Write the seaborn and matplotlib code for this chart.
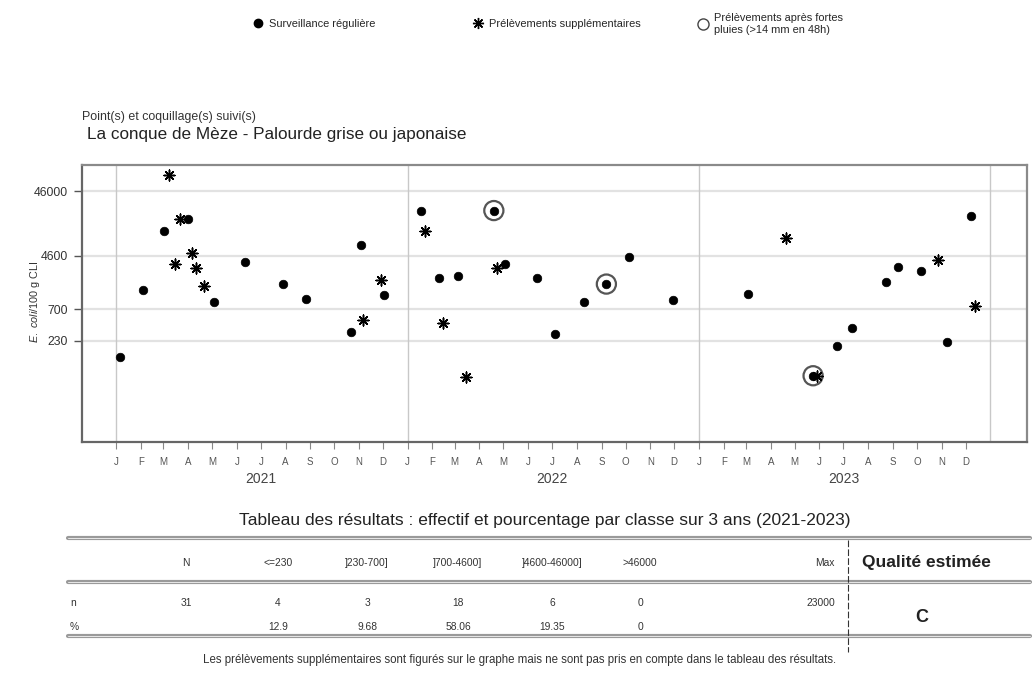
import pandas as pd
import matplotlib.pyplot as plt
import matplotlib.transforms as mtransforms
from matplotlib.lines import Line2D
import seaborn as sns

# Surveillance reguliere (points noirs)
reg_dates = ['2021-01-05', '2021-02-03', '2021-03-02', '2021-04-01', '2021-05-04', '2021-06-11',
             '2021-07-29', '2021-08-27', '2021-10-22', '2021-11-03', '2021-12-02',
             '2022-01-18', '2022-02-09', '2022-03-05', '2022-04-19', '2022-05-03', '2022-06-12',
             '2022-07-05', '2022-08-10', '2022-09-07', '2022-10-05', '2022-11-30',
             '2023-03-03', '2023-05-24', '2023-06-23', '2023-07-12', '2023-08-23', '2023-09-08',
             '2023-10-06', '2023-11-08', '2023-12-08']
reg_values = [130, 1400, 11000, 17000, 900, 3700,
              1700, 1000, 310, 6800, 1150,
              23000, 2100, 2300, 23000, 3500, 2100,
              290, 910, 1700, 4400, 970,
              1200, 66, 190, 360, 1850, 3150,
              2700, 220, 19000]

# Prelevements supplementaires (etoiles)
supp_dates = ['2021-03-08', '2021-03-15', '2021-03-22', '2021-04-06', '2021-04-11', '2021-04-21',
              '2021-11-06', '2021-11-28',
              '2022-01-23', '2022-02-14', '2022-03-15', '2022-04-23',
              '2023-04-20', '2023-05-29', '2023-10-28', '2023-12-13']
supp_values = [81000, 3500, 17000, 5100, 3000, 1600,
               480, 1950,
               11000, 430, 64, 3000,
               8600, 66, 4000, 780]

# Prelevements apres fortes pluies (cercles)
rain_dates = ['2022-04-19', '2022-09-07', '2023-05-24']
rain_values = [23000, 1700, 66]

# Seuils de l'axe y
y_ticks = [46000, 4600, 700, 230]
month_letters = ['J', 'F', 'M', 'A', 'M', 'J', 'J', 'A', 'S', 'O', 'N', 'D']
years = [2021, 2022, 2023]

# Tableau des resultats
col_heads = ['N', '<=230', ']230-700]', ']700-4600]', ']4600-46000]', '>46000', 'Max']
n_row = ['31', '4', '3', '18', '6', '0', '23000']
pct_row = ['', '12.9', '9.68', '58.06', '19.35', '0', '']
quality = 'C'

sns.set_style('white')
plt.rcParams['font.family'] = ['Liberation Sans', 'DejaVu Sans']
plt.rcParams['mathtext.fontset'] = 'custom'
plt.rcParams['mathtext.it'] = 'Liberation Sans:italic'
plt.rcParams['mathtext.rm'] = 'Liberation Sans'

df_reg = pd.DataFrame({'date': pd.to_datetime(reg_dates), 'value': reg_values})
df_supp = pd.DataFrame({'date': pd.to_datetime(supp_dates), 'value': supp_values})
df_rain = pd.DataFrame({'date': pd.to_datetime(rain_dates), 'value': rain_values})

W, H = 1033, 675
fig = plt.figure(figsize=(W / 100, H / 100), dpi=100)
ax = fig.add_axes([82 / W, 1 - 442 / H, 945 / W, 277 / H])

ax.set_yscale('log')
ax.set_ylim(10 ** 0.80, 10 ** 5.063)
ax.set_xlim(pd.Timestamp('2020-11-19'), pd.Timestamp('2024-02-16'))

# grille
for v in y_ticks:
    ax.axhline(v, color='#e2e2e2', lw=1.6, zorder=0)
for yr in years + [2024]:
    ax.axvline(pd.Timestamp(f'{yr}-01-01'), color='#c8c8c8', lw=1, zorder=0)

sns.scatterplot(x='date', y='value', data=df_rain, ax=ax, marker='o', s=190,
                facecolor='none', edgecolor='#555555', linewidth=1.6, zorder=2)
sns.scatterplot(x='date', y='value', data=df_supp, ax=ax, marker=(8, 2, 0), s=60,
                color='black', linewidth=1.1, zorder=3)
sns.scatterplot(x='date', y='value', data=df_reg, ax=ax, marker='o', s=38,
                color='black', edgecolor='black', linewidth=0.5, zorder=4)

ax.set_yticks(y_ticks)
ax.set_yticklabels([str(v) for v in y_ticks])
ax.yaxis.set_minor_locator(plt.NullLocator())
months = pd.date_range('2021-01-01', '2023-12-01', freq='MS')
ax.set_xticks(months)
ax.set_xticklabels(month_letters * len(years))
ax.tick_params(axis='y', which='major', length=6, width=1, color='#555555',
               labelsize=8.8, labelcolor='#333333', pad=4, left=True)
ax.tick_params(axis='x', which='major', length=5, width=0.8, color='#888888',
               labelsize=7, labelcolor='#555555', pad=6, bottom=True)
ax.set_xlabel('')
ax.set_ylabel('')
for name, sp in ax.spines.items():
    sp.set_visible(True)
    sp.set_linewidth(1.6)
    sp.set_color('#666666' if name in ('left', 'bottom') else '#8a8a8a')

trans = mtransforms.blended_transform_factory(ax.transData, ax.transAxes)
for yr in years:
    ax.text(pd.Timestamp(f'{yr}-07-01'), -0.135, str(yr), transform=trans,
            ha='center', va='center', fontsize=10, color='#444444')

fig.text(35 / W, 1 - 302 / H, r'$\it{E.\ coli}$/100 g CLI', rotation=90,
         ha='center', va='center', fontsize=7.8, color='#333333')

fig.text(82 / W, 1 - 117 / H, 'Point(s) et coquillage(s) suivi(s)', fontsize=8.9,
         ha='left', va='center', color='#333333')
fig.text(87 / W, 1 - 134 / H, 'La conque de Mèze - Palourde grise ou japonaise', fontsize=12.3,
         ha='left', va='center', color='#222222')

# legende : une entree par position
leg_items = [
    (Line2D([], [], marker='o', color='black', ls='', markersize=6),
     'Surveillance régulière', 253),
    (Line2D([], [], marker=(8, 2, 0), color='black', ls='', markersize=8, markeredgewidth=1),
     'Prélèvements supplémentaires', 473),
    (Line2D([], [], marker='o', markerfacecolor='none', markeredgecolor='#444444', ls='', markersize=8),
     'Prélèvements après fortes\npluies (>14 mm en 48h)', 698),
]
for h, lab, px in leg_items:
    fig.legend([h], [lab], loc='center left', bbox_to_anchor=(px / W, 1 - 24 / H),
               frameon=False, fontsize=7.9, handletextpad=0.45, handlelength=1.0,
               borderpad=0, borderaxespad=0)

# tableau
fig.text(545 / W, 1 - 521 / H,
         'Tableau des résultats : effectif et pourcentage par classe sur 3 ans (2021-2023)',
         ha='center', va='center', fontsize=12.5, color='#222222')
for yy in (538, 582, 636):
    fig.add_artist(Line2D([68 / W, 1030 / W], [1 - yy / H, 1 - yy / H], color='#9a9a9a', lw=3))
    fig.add_artist(Line2D([68 / W, 1030 / W], [1 - yy / H, 1 - yy / H], color='#e8e8e8', lw=0.7))
fig.add_artist(Line2D([848 / W, 848 / W], [1 - 540 / H, 1 - 652 / H], color='#333333', lw=0.8,
                      ls=(0, (6, 2))))

col_x = [186, 278, 367, 458, 552, 640, 835]
for cx, head, n, p in zip(col_x, col_heads, n_row, pct_row):
    ha = 'right' if head == 'Max' else 'center'
    fig.text(cx / W, 1 - 563 / H, head, ha=ha, va='center', fontsize=7.4, color='#333333')
    fig.text(cx / W, 1 - 603 / H, n, ha=ha, va='center', fontsize=7.4, color='#333333')
    fig.text(cx / W, 1 - 627 / H, p, ha=ha, va='center', fontsize=7.4, color='#333333')
fig.text(70 / W, 1 - 603 / H, 'n', ha='left', va='center', fontsize=7.4, color='#333333')
fig.text(70 / W, 1 - 627 / H, '%', ha='left', va='center', fontsize=7.4, color='#333333')
fig.text(926 / W, 1 - 563 / H, 'Qualité estimée', ha='center', va='center', fontsize=12.5,
         fontweight='bold', color='#222222')
fig.text(922 / W, 1 - 617 / H, quality, ha='center', va='center', fontsize=13,
         fontweight='bold', color='#222222')

fig.text(520 / W, 1 - 660 / H,
         'Les prélèvements supplémentaires sont figurés sur le graphe mais ne sont pas pris en compte dans le tableau des résultats.',
         ha='center', va='center', fontsize=8.3, color='#333333')

plt.savefig('out.png', dpi=100)
